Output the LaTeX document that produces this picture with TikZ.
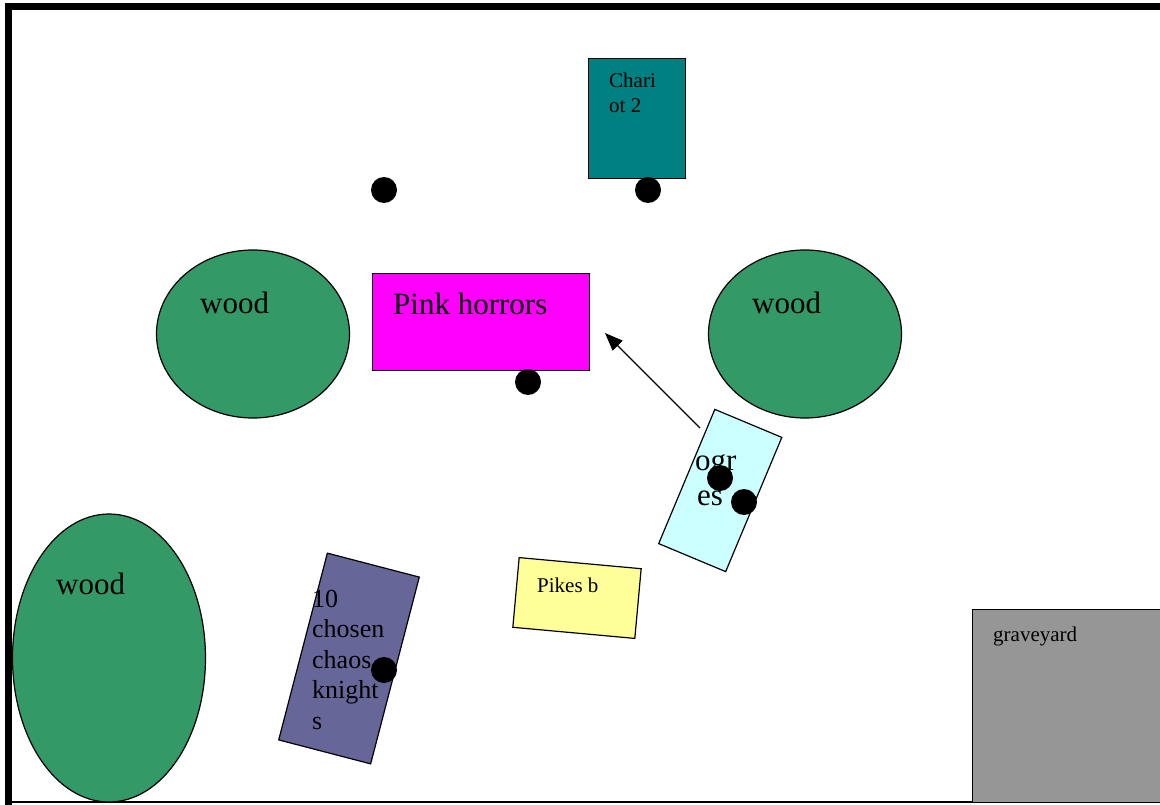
\documentclass[tikz,border=0pt]{standalone}
\usepackage{fontspec}
\setmainfont{Liberation Serif}
\usepackage{xcolor}
\usetikzlibrary{arrows.meta, shapes.geometric}

\definecolor{woodgreen}{HTML}{339966}
\definecolor{horrorpink}{HTML}{FF00FF}
\definecolor{chariotteal}{HTML}{008080}
\definecolor{ogrecyan}{HTML}{CCFFFF}
\definecolor{knightblue}{HTML}{666699}
\definecolor{pikeyellow}{HTML}{FFFF99}
\definecolor{gravegrey}{HTML}{969696}

\begin{document}
\begin{tikzpicture}[
  x=1pt, y=-1pt,
  wood/.style={draw, ellipse, fill=woodgreen, line width=1.2pt, inner sep=0pt},
  unit/.style={draw, rectangle, line width=1.2pt, inner sep=0pt},
  big/.style={anchor=base west, inner sep=0pt, font=\fontsize{31}{35}\selectfont},
  small/.style={anchor=base west, inner sep=0pt, font=\fontsize{21}{25}\selectfont},
  dot/.style={circle, fill=black, minimum size=26pt, inner sep=0pt},
  arrow/.style={-{Triangle[length=18pt, width=14pt]}, line width=1.2pt}
]
\useasboundingbox (0,0) rectangle (1160,805);
% table edge
\draw[line width=7pt] (1170,6.5) -- (8.5,6.5) -- (8.5,805);
\draw[line width=2pt] (8.5,802) -- (1170,802);

% terrain
\node[wood, minimum width=193pt, minimum height=168pt] (woodl) at (253,334) {};
\node[wood, minimum width=193pt, minimum height=168pt] (woodr) at (805,334) {};
\node[wood, minimum width=193pt, minimum height=288pt] (woodb) at (109,658) {};
\node[big] (woodltxt) at (200,313) {wood};
\node[big] (woodrtxt) at (752,313) {wood};
\node[big] (woodbtxt) at (56,594) {wood};
\node[unit, fill=gravegrey, anchor=north west, minimum width=200pt, minimum height=193pt] (grave) at (972,609) {};
\node[small] (gravetxt) at (993,641) {graveyard};

% units (multi-line labels sit on their last baseline)
\node[unit, fill=horrorpink, anchor=north west, minimum width=217pt, minimum height=97pt] (pink) at (372,273) {};
\node[big] (pinktxt) at (393,315) {Pink horrors};
\node[unit, fill=chariotteal, anchor=north west, minimum width=97pt, minimum height=120pt] (chariot) at (588,58) {};
\node[small, align=left, font=\fontsize{21}{25}\selectfont] (chariottxt) at (609,113) {Chari\\ot 2};
\node[unit, fill=ogrecyan, rotate=-22.7, minimum width=72.6pt, minimum height=145.5pt] (ogres) at (720.25,490.5) {};
\node[unit, fill=knightblue, rotate=-14.6, minimum width=95pt, minimum height=193pt] (knights) at (349,658.5) {};
\node[unit, fill=pikeyellow, rotate=-5.2, minimum width=122.5pt, minimum height=70pt] (pikes) at (577,598) {};
\node[small] (pikestxt) at (537,592) {Pikes b};
\node[big, align=left, font=\fontsize{31}{35}\selectfont] (ogrestxt) at (695,505) {ogr\\\hspace*{2pt}es};
\node[anchor=base west, inner sep=0pt, align=left, font=\fontsize{26}{30.5}\selectfont] (knightstxt) at (312,729) {10\\chosen\\chaos\\knight\\s};

% markers
\node[dot] (m1) at (384,190) {};
\node[dot] (m2) at (648,190) {};
\node[dot] (m3) at (528,382) {};
\node[dot] (m4) at (720,478) {};
\node[dot] (m5) at (744,502) {};
\node[dot] (m6) at (384,670) {};

% move
\coordinate (ogtail) at (700,428);
\coordinate (ogtip) at (605,333);
\draw[arrow] (ogtail) -- (ogtip);
\end{tikzpicture}
\end{document}
